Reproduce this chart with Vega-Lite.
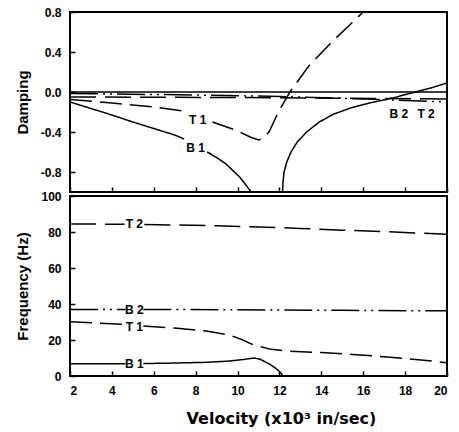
{
  "$schema": "https://vega.github.io/schema/vega-lite/v6.json",
  "padding": {"left": 14, "top": 5, "right": 5, "bottom": 5},
  "background": "white",
  "datasets": {
    "damp": [
      {"v": 2, "d": 0, "s": "Z", "g": "Z"},
      {"v": 20, "d": 0, "s": "Z", "g": "Z"},
      {"v": 2, "d": -0.015, "s": "B2", "g": "B2"},
      {"v": 8, "d": -0.03, "s": "B2", "g": "B2"},
      {"v": 12, "d": -0.045, "s": "B2", "g": "B2"},
      {"v": 16, "d": -0.07, "s": "B2", "g": "B2"},
      {"v": 20, "d": -0.1, "s": "B2", "g": "B2"},
      {"v": 2, "d": -0.05, "s": "T2", "g": "T2"},
      {"v": 10, "d": -0.055, "s": "T2", "g": "T2"},
      {"v": 20, "d": -0.07, "s": "T2", "g": "T2"},
      {"v": 2, "d": -0.075, "s": "T1", "g": "T1a"},
      {"v": 4, "d": -0.11, "s": "T1", "g": "T1a"},
      {"v": 6, "d": -0.15, "s": "T1", "g": "T1a"},
      {"v": 7.4, "d": -0.19, "s": "T1", "g": "T1a"},
      {"v": 8.8, "d": -0.3, "s": "T1", "g": "T1b"},
      {"v": 9.9, "d": -0.38, "s": "T1", "g": "T1b"},
      {"v": 10.6, "d": -0.45, "s": "T1", "g": "T1b"},
      {"v": 11.0, "d": -0.48, "s": "T1", "g": "T1b"},
      {"v": 11.25, "d": -0.46, "s": "T1", "g": "T1b"},
      {"v": 11.5, "d": -0.4, "s": "T1", "g": "T1b"},
      {"v": 11.75, "d": -0.29, "s": "T1", "g": "T1b"},
      {"v": 12.0, "d": -0.18, "s": "T1", "g": "T1b"},
      {"v": 12.5, "d": 0.0, "s": "T1", "g": "T1b"},
      {"v": 13.4, "d": 0.26, "s": "T1", "g": "T1b"},
      {"v": 14.5, "d": 0.5, "s": "T1", "g": "T1b"},
      {"v": 15.3, "d": 0.66, "s": "T1", "g": "T1b"},
      {"v": 16.0, "d": 0.8, "s": "T1", "g": "T1b"},
      {"v": 2, "d": -0.1, "s": "B1", "g": "B1a"},
      {"v": 3, "d": -0.165, "s": "B1", "g": "B1a"},
      {"v": 4, "d": -0.23, "s": "B1", "g": "B1a"},
      {"v": 5, "d": -0.3, "s": "B1", "g": "B1a"},
      {"v": 6, "d": -0.365, "s": "B1", "g": "B1a"},
      {"v": 7, "d": -0.43, "s": "B1", "g": "B1a"},
      {"v": 7.45, "d": -0.47, "s": "B1", "g": "B1a"},
      {"v": 8.55, "d": -0.6, "s": "B1", "g": "B1b"},
      {"v": 9.0, "d": -0.655, "s": "B1", "g": "B1b"},
      {"v": 9.45, "d": -0.72, "s": "B1", "g": "B1b"},
      {"v": 10.1, "d": -0.85, "s": "B1", "g": "B1b"},
      {"v": 10.4, "d": -0.93, "s": "B1", "g": "B1b"},
      {"v": 10.65, "d": -1.0, "s": "B1", "g": "B1b"},
      {"v": 12.15, "d": -1.0, "s": "B1", "g": "B1c"},
      {"v": 12.17, "d": -0.9, "s": "B1", "g": "B1c"},
      {"v": 12.22, "d": -0.8, "s": "B1", "g": "B1c"},
      {"v": 12.35, "d": -0.7, "s": "B1", "g": "B1c"},
      {"v": 12.55, "d": -0.6, "s": "B1", "g": "B1c"},
      {"v": 12.85, "d": -0.5, "s": "B1", "g": "B1c"},
      {"v": 13.3, "d": -0.4, "s": "B1", "g": "B1c"},
      {"v": 13.9, "d": -0.3, "s": "B1", "g": "B1c"},
      {"v": 14.6, "d": -0.22, "s": "B1", "g": "B1c"},
      {"v": 15.4, "d": -0.16, "s": "B1", "g": "B1c"},
      {"v": 16.2, "d": -0.115, "s": "B1", "g": "B1c"},
      {"v": 17.4, "d": -0.06, "s": "B1", "g": "B1c"},
      {"v": 18.5, "d": 0.0, "s": "B1", "g": "B1c"},
      {"v": 19.3, "d": 0.045, "s": "B1", "g": "B1c"},
      {"v": 20, "d": 0.09, "s": "B1", "g": "B1c"}
    ],
    "dlab": [
      {"v": 8.1, "d": -0.275, "t": "T 1"},
      {"v": 8.0, "d": -0.56, "t": "B 1"},
      {"v": 17.7, "d": -0.22, "t": "B 2"},
      {"v": 19.0, "d": -0.22, "t": "T 2"}
    ],
    "freq": [
      {"v": 2, "f": 84.5, "s": "T2", "g": "T2a"},
      {"v": 4.6, "f": 84.3, "s": "T2", "g": "T2a"},
      {"v": 5.55, "f": 84.1, "s": "T2", "g": "T2b"},
      {"v": 7, "f": 83.9, "s": "T2", "g": "T2b"},
      {"v": 9, "f": 83.5, "s": "T2", "g": "T2b"},
      {"v": 11, "f": 82.8, "s": "T2", "g": "T2b"},
      {"v": 13, "f": 82, "s": "T2", "g": "T2b"},
      {"v": 15, "f": 81, "s": "T2", "g": "T2b"},
      {"v": 17, "f": 80.2, "s": "T2", "g": "T2b"},
      {"v": 20, "f": 78.7, "s": "T2", "g": "T2b"},
      {"v": 2, "f": 37, "s": "B2", "g": "B2a"},
      {"v": 4.65, "f": 37, "s": "B2", "g": "B2a"},
      {"v": 5.5, "f": 37, "s": "B2", "g": "B2b"},
      {"v": 10, "f": 36.8, "s": "B2", "g": "B2b"},
      {"v": 15, "f": 36.5, "s": "B2", "g": "B2b"},
      {"v": 20, "f": 36.2, "s": "B2", "g": "B2b"},
      {"v": 2, "f": 30.2, "s": "T1", "g": "T1a"},
      {"v": 4.65, "f": 28.6, "s": "T1", "g": "T1a"},
      {"v": 5.5, "f": 27.8, "s": "T1", "g": "T1b"},
      {"v": 7, "f": 26.6, "s": "T1", "g": "T1b"},
      {"v": 8.5, "f": 25, "s": "T1", "g": "T1b"},
      {"v": 9.6, "f": 22.8, "s": "T1", "g": "T1b"},
      {"v": 10.2, "f": 20.3, "s": "T1", "g": "T1b"},
      {"v": 10.7, "f": 17.6, "s": "T1", "g": "T1b"},
      {"v": 11.2, "f": 16, "s": "T1", "g": "T1b"},
      {"v": 11.6, "f": 14.8, "s": "T1", "g": "T1b"},
      {"v": 12.3, "f": 13.9, "s": "T1", "g": "T1b"},
      {"v": 14, "f": 13, "s": "T1", "g": "T1b"},
      {"v": 15.5, "f": 12, "s": "T1", "g": "T1b"},
      {"v": 17, "f": 10.7, "s": "T1", "g": "T1b"},
      {"v": 18.5, "f": 9.2, "s": "T1", "g": "T1b"},
      {"v": 20, "f": 7.4, "s": "T1", "g": "T1b"},
      {"v": 2, "f": 6.8, "s": "B1", "g": "B1a"},
      {"v": 4.65, "f": 6.8, "s": "B1", "g": "B1a"},
      {"v": 5.5, "f": 6.9, "s": "B1", "g": "B1b"},
      {"v": 7, "f": 7.2, "s": "B1", "g": "B1b"},
      {"v": 8.5, "f": 7.6, "s": "B1", "g": "B1b"},
      {"v": 9.6, "f": 8.3, "s": "B1", "g": "B1b"},
      {"v": 10.3, "f": 9.2, "s": "B1", "g": "B1b"},
      {"v": 10.8, "f": 10.0, "s": "B1", "g": "B1b"},
      {"v": 11.1, "f": 9.2, "s": "B1", "g": "B1b"},
      {"v": 11.5, "f": 6.8, "s": "B1", "g": "B1b"},
      {"v": 11.8, "f": 4.5, "s": "B1", "g": "B1b"},
      {"v": 12.0, "f": 2.5, "s": "B1", "g": "B1b"},
      {"v": 12.1, "f": 1.2, "s": "B1", "g": "B1b"},
      {"v": 12.15, "f": 0, "s": "B1", "g": "B1b"}
    ],
    "flab": [
      {"v": 5.07, "f": 84.4, "t": "T 2"},
      {"v": 5.07, "f": 36.7, "t": "B 2"},
      {"v": 5.07, "f": 27.5, "t": "T 1"},
      {"v": 5.07, "f": 6.7, "t": "B 1"}
    ]
  },
  "spacing": -5,
  "resolve": {"scale": {"x": "independent", "y": "independent", "strokeDash": "shared"}},
  "vconcat": [
    {
      "width": 377,
      "height": 180,
      "layer": [
        {
          "data": {"name": "damp"},
          "mark": {"type": "line", "color": "black", "strokeWidth": 1.5, "clip": true},
          "encoding": {
            "x": {"field": "v", "type": "quantitative", "scale": {"domain": [2, 20], "nice": false},
                  "axis": {"values": [2, 4, 6, 8, 10, 12, 14, 16, 18, 20], "labels": false, "title": null, "minExtent": 0, "maxExtent": 0, "labelPadding": 0}},
            "y": {"field": "d", "type": "quantitative", "scale": {"domain": [-1.0, 0.8], "nice": false},
                  "axis": {"values": [-0.8, -0.4, 0, 0.4, 0.8], "format": ".1f", "title": "Damping", "labelOverlap": false, "labelExpr": "replace(datum.label, '−', '-')"}},
            "detail": {"field": "g", "type": "nominal"},
            "strokeDash": {"field": "s", "type": "nominal", "legend": null,
                           "scale": {"domain": ["Z", "B1", "B2", "T1", "T2"], "range": [[1, 0], [1, 0], [28, 5, 2, 5, 2, 5], [22, 8], [26, 9]]}}
          }
        },
        {
          "data": {"name": "dlab"},
          "mark": {"type": "text", "font": "Liberation Sans", "fontWeight": "bold", "fontSize": 12, "color": "black"},
          "encoding": {
            "x": {"field": "v", "type": "quantitative"},
            "y": {"field": "d", "type": "quantitative"},
            "text": {"field": "t"}
          }
        }
      ]
    },
    {
      "width": 377,
      "height": 180,
      "layer": [
        {
          "data": {"name": "freq"},
          "mark": {"type": "line", "color": "black", "strokeWidth": 1.5, "clip": true},
          "encoding": {
            "x": {"field": "v", "type": "quantitative", "scale": {"domain": [2, 20], "nice": false},
                  "axis": {"values": [2, 4, 6, 8, 10, 12, 14, 16, 18, 20], "title": "Velocity (x10³ in/sec)", "titleFont": "DejaVu Sans", "titleFontSize": 16, "titleX": 211, "titlePadding": 14, "labelOverlap": false}},
            "y": {"field": "f", "type": "quantitative", "scale": {"domain": [0, 100], "nice": false},
                  "axis": {"values": [0, 20, 40, 60, 80, 100], "tickCount": 6, "title": "Frequency (Hz)", "labelOverlap": false, "labelSeparation": 0}},
            "detail": {"field": "g", "type": "nominal"},
            "strokeDash": {"field": "s", "type": "nominal", "legend": null,
                           "scale": {"domain": ["Z", "B1", "B2", "T1", "T2"], "range": [[1, 0], [1, 0], [28, 5, 2, 5, 2, 5], [22, 8], [26, 9]]}}
          }
        },
        {
          "data": {"name": "flab"},
          "mark": {"type": "text", "font": "Liberation Sans", "fontWeight": "bold", "fontSize": 12, "color": "black"},
          "encoding": {
            "x": {"field": "v", "type": "quantitative"},
            "y": {"field": "f", "type": "quantitative",
                  "axis": {"values": [0, 20, 40, 60, 80, 100], "tickCount": 6, "title": "Frequency (Hz)", "labelOverlap": false, "labelSeparation": 0}},
            "text": {"field": "t"}
          }
        }
      ]
    }
  ],
  "config": {
    "font": "Liberation Sans",
    "view": {"stroke": "black", "strokeWidth": 2},
    "axis": {
      "domain": false,
      "grid": false,
      "ticks": true,
      "tickSize": -5,
      "tickWidth": 1.5,
      "tickColor": "black",
      "labelPadding": 14,
      "labelOverlap": false,
      "labelFont": "Liberation Sans",
      "labelFontWeight": "bold",
      "labelFontSize": 12,
      "labelColor": "black",
      "titleFont": "Liberation Sans",
      "titleFontWeight": "bold",
      "titleFontSize": 15,
      "titleColor": "black",
      "titlePadding": 10
    }
  }
}
